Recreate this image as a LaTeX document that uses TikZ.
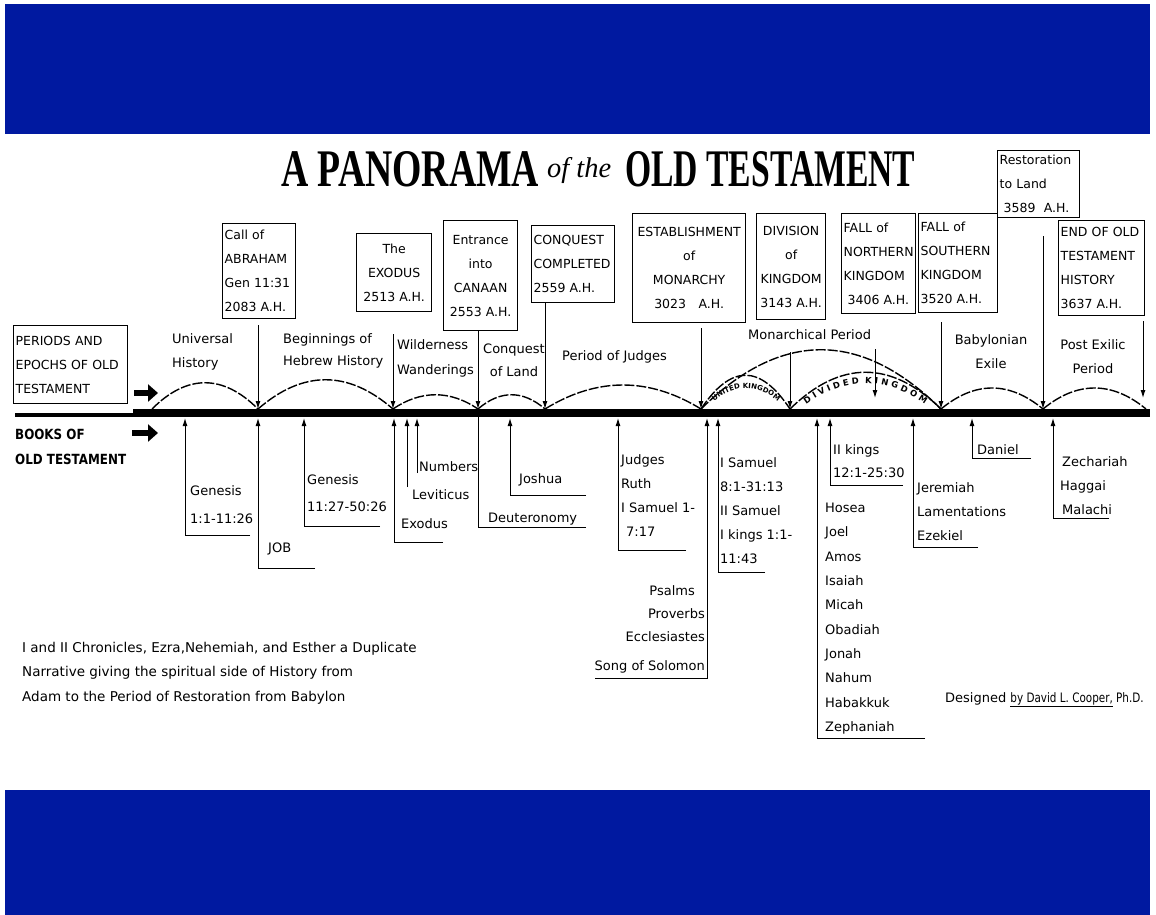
\documentclass[tikz,border=0pt]{standalone}
\usepackage{fontspec}
\setmainfont{DejaVu Sans}
\newfontfamily\titlefont{Liberation Serif}
\usetikzlibrary{arrows.meta,decorations.text}
\definecolor{bandblue}{RGB}{0,25,160}
\newcommand\setfs[2]{\fontsize{#1}{#2}\selectfont}
\begin{document}
\begin{tikzpicture}[x=1pt,y=-1pt,
  box/.style={draw, line width=1.3pt, inner sep=2pt, anchor=north west, font=\setfs{12.5}{24}},
  lbox/.style={box, align=left},
  cbox/.style={box, align=center},
  lbl/.style={inner sep=0pt, anchor=north west, align=left, font=\setfs{13}{24}},
  clbl/.style={lbl, anchor=north, align=center},
  rlbl/.style={inner sep=0pt, anchor=north east, font=\setfs{13}{24}},
  darr/.style={line width=1pt, -{Latex[length=8pt,width=5pt]}},
  uarr/.style={line width=1pt, -{Latex[length=8pt,width=5pt]}},
  bline/.style={line width=1pt},
  hump/.style={line width=1.4pt, dash pattern=on 10pt off 2pt},
  bigarrow/.style={line width=6pt, -{Triangle[length=10pt,width=17pt]}},
]
\useasboundingbox (0,0) rectangle (1156,915);
% blue bands
\fill[bandblue] (5,4) rectangle (1150,134);
\fill[bandblue] (5,790) rectangle (1150,915);

% title
\node[anchor=south west, inner sep=0] (title1) at (281,187) {\resizebox{258pt}{35pt}{\titlefont\bfseries A PANORAMA}};
\node[anchor=base west, inner sep=0] (title2) at (547,177) {\resizebox{64pt}{!}{\titlefont\itshape of the}};
\node[anchor=south west, inner sep=0] (title3) at (625,187) {\resizebox{290pt}{35pt}{\titlefont\bfseries OLD TESTAMENT}};

% timeline
\coordinate (L0) at (15,414.5);
\coordinate (L1) at (133,414.5);
\coordinate (L2) at (133,412.5);
\coordinate (L3) at (1150,412.5);
\draw[line width=4pt] (L0) -- (L1);
\draw[line width=8pt] (L2) -- (L3);

\coordinate (T0) at (152,409);
\coordinate (T1) at (258,409);
\coordinate (T2) at (393,409);
\coordinate (T3) at (478,409);
\coordinate (T4) at (545,409);
\coordinate (T5) at (701,409);
\coordinate (T6) at (790,409);
\coordinate (T7) at (941,409);
\coordinate (T8) at (1043,409);
\coordinate (T9) at (1146,409);

% left arrows
\coordinate (A1) at (134,393);
\coordinate (A2) at (158,393);
\coordinate (A3) at (132,433);
\coordinate (A4) at (158,433);
\draw[bigarrow] (A1) -- (A2);
\draw[bigarrow] (A3) -- (A4);

% humps
\draw[hump] (T0) .. controls +(35,-35) and +(-35,-35) .. (T1);
\draw[hump] (T1) .. controls +(45,-39) and +(-45,-39) .. (T2);
\draw[hump] (T2) .. controls +(28,-19) and +(-28,-19) .. (T3);
\draw[hump] (T3) .. controls +(22,-19) and +(-22,-19) .. (T4);
\draw[hump] (T4) .. controls +(52,-32) and +(-52,-32) .. (T5);
\draw[hump] (T5) .. controls +(80,-79) and +(-80,-79) .. (T7);
\draw[hump] (T5) .. controls +(30,-45) and +(-30,-45) .. (T6);
\draw[hump] (T6) .. controls +(50,-49) and +(-50,-49) .. (T7);
\draw[hump] (T7) .. controls +(34,-28) and +(-34,-28) .. (T8);
\draw[hump] (T8) .. controls +(34,-28) and +(-34,-28) .. (T9);

\path[decorate, decoration={text along path, text={|\setfs{7}{8}\bfseries|UNITED KINGDOM}, text align=center}]
  (711,404) .. controls +(23,-21) and +(-23,-21) .. (781,404);
\path[decorate, decoration={text along path, text={|\setfs{8.5}{9}\bfseries|D I V I D E D\ \ K I N G D O M}, text align=center}]
  (805,405) .. controls +(40,-29) and +(-40,-29) .. (926,405);

% left box and books label
\node[lbox, text width=110pt, minimum height=78pt] (per) at (13,325) {PERIODS AND\\EPOCHS OF OLD\\TESTAMENT};
\node[inner sep=0, anchor=north west, align=left, font=\setfs{14}{25}\bfseries] (books) at (15,429) {\scalebox{0.85}[1]{BOOKS OF}\\\scalebox{0.85}[1]{OLD TESTAMENT}};

% event boxes
\node[lbox, text width=69pt, minimum height=95pt] (abr) at (222,223) {Call of\\ABRAHAM\\Gen 11:31\\2083 A.H.};
\node[cbox, text width=71pt, minimum height=78pt] (exo) at (356,233) {The\\EXODUS\\2513 A.H.};
\node[cbox, text width=70pt, minimum height=110pt] (can) at (443,220) {Entrance\\into\\CANAAN\\2553 A.H.};
\node[lbox, text width=79pt, minimum height=77pt] (cmp) at (531,225) {CONQUEST\\COMPLETED\\2559 A.H.};
\node[cbox, text width=109pt, minimum height=109pt] (mon) at (632,213) {ESTABLISHMENT\\of\\MONARCHY\\3023\quad A.H.};
\node[cbox, text width=65pt, minimum height=106pt] (div) at (756,213) {DIVISION\\of\\KINGDOM\\3143 A.H.};
\node[lbox, text width=70pt, minimum height=100pt] (nor) at (841,213) {FALL of\\NORTHERN\\KINGDOM\\\hspace{4pt}3406 A.H.};
\node[lbox, text width=75pt, minimum height=99pt] (sou) at (918,213) {FALL of\\SOUTHERN\\KINGDOM\\3520 A.H.};
\node[lbox, text width=78pt, minimum height=67pt] (res) at (997,150) {Restoration\\to Land\\\hspace{4pt}3589\ \ A.H.};
\node[lbox, text width=82pt, minimum height=95pt] (end) at (1058,220) {END OF OLD\\TESTAMENT\\HISTORY\\3637 A.H.};

% down arrows from boxes
\coordinate (NK) at (875,398);
\coordinate (E9) at (1143,398);
\draw[darr, shorten <=6pt] (T1 |- abr.south) -- (T1);
\draw[darr, shorten <=22pt] (T2 |- exo.south) -- (T2);
\draw[darr] (T3 |- can.south) -- (T3);
\draw[darr] (T4 |- cmp.south) -- (T4);
\draw[darr, shorten <=5pt] (T5 |- mon.south) -- (T5);
\draw[darr, shorten <=32pt] (T6 |- div.south) -- (T6);
\draw[darr, shorten <=35pt] (NK |- nor.south) -- (NK);
\draw[darr, shorten <=9pt] (T7 |- sou.south) -- (T7);
\draw[darr, shorten <=18pt] (T8 |- res.south) -- (T8);
\draw[darr, shorten <=5pt] (E9 |- end.south) -- (E9);

% period labels
\node[lbl] (p1) at (172,333) {Universal\\History};
\node[lbl, font=\setfs{13}{22}] (p2) at (283,333) {Beginnings of\\Hebrew History};
\node[lbl, font=\setfs{13}{25}] (p3) at (397,339) {Wilderness\\Wanderings};
\node[clbl, font=\setfs{13}{23}] (p4) at (514,344) {Conquest\\of Land};
\node[lbl] (p5) at (562,350) {Period of Judges};
\node[lbl] (p6) at (748,329) {Monarchical Period};
\node[clbl] (p7) at (991,334) {Babylonian\\Exile};
\node[clbl] (p8) at (1093,339) {Post Exilic\\Period};

% book brackets
\coordinate (b1) at (185,418);
\coordinate (b2) at (258,418);
\coordinate (b3) at (304,418);
\coordinate (b4) at (394,418);
\coordinate (b5) at (407,418);
\coordinate (b6) at (417,418);
\coordinate (b7) at (478,416);
\coordinate (b8) at (510,418);
\coordinate (b9) at (618,418);
\coordinate (b10) at (707,418);
\coordinate (b11) at (718,418);
\coordinate (b12) at (817,418);
\coordinate (b13) at (830,418);
\coordinate (b14) at (913,418);
\coordinate (b15) at (972,418);
\coordinate (b16) at (1053,418);

\draw[uarr] (250,535) -| (b1);
\draw[uarr] (315,568) -| (b2);
\draw[uarr] (380,526) -| (b3);
\draw[uarr] (443,542) -| (b4);
\draw[uarr] (b5 |- 0,487) -- (b5);
\draw[uarr] (b6 |- 0,473) -- (b6);
\draw[bline] (586,527) -| (b7);
\draw[uarr] (586,495) -| (b8);
\draw[uarr] (686,550) -| (b9);
\draw[uarr] (595,678) -| (b10);
\draw[uarr] (765,572) -| (b11);
\draw[uarr] (925,738) -| (b12);
\draw[uarr] (903,485) -| (b13);
\draw[uarr] (978,547) -| (b14);
\draw[uarr] (1031,458) -| (b15);
\draw[uarr] (1109,518) -| (b16);

% book labels
\node[lbl, font=\setfs{13}{28}] (k1) at (190,485) {Genesis\\1:1-11:26};
\node[lbl] (k2) at (268,543) {JOB};
\node[lbl, font=\setfs{13}{27}] (k3) at (307,474) {Genesis\\11:27-50:26};
\node[lbl] (k4) at (401,518) {Exodus};
\node[lbl] (k5) at (412,489) {Leviticus};
\node[lbl] (k6) at (419,461) {Numbers};
\node[lbl] (k7) at (488,513) {Deuteronomy};
\node[lbl] (k8) at (519,473) {Joshua};
\node[lbl, font=\setfs{13}{24.3}] (k9) at (621,454) {Judges\\Ruth\\I Samuel 1-\\\hspace{5pt}7:17};
\node[rlbl] (k10a) at (695,585) {Psalms};
\node[rlbl] (k10b) at (705,608) {Proverbs};
\node[rlbl] (k10c) at (705,631) {Ecclesiastes};
\node[rlbl] (k10d) at (705,660) {Song of Solomon};
\node[lbl] (k11) at (720,457) {I Samuel\\8:1-31:13\\II Samuel\\I kings 1:1-\\11:43};
\node[lbl, font=\setfs{13}{24.3}] (k12) at (825,503) {Hosea\\Joel\\Amos\\Isaiah\\Micah\\Obadiah\\Jonah\\Nahum\\Habakkuk\\Zephaniah};
\node[lbl, font=\setfs{13}{23}] (k13) at (833,444) {II kings\\12:1-25:30};
\node[lbl] (k14) at (917,482) {Jeremiah\\Lamentations\\Ezekiel};
\node[lbl] (k15) at (977,444) {Daniel};
\node[lbl] (k16) at (1062,456) {Zechariah\\[0pt]\hspace{-2pt}Haggai\\Malachi};

% notes
\node[lbl, font=\setfs{13.5}{24.5}] (note) at (22,642) {I and II Chronicles, Ezra,Nehemiah, and Esther a Duplicate\\Narrative giving the spiritual side of History from\\Adam to the Period of Restoration from Babylon};
\node[lbl] (sig) at (945,692) {Designed \scalebox{0.8}[1]{\underline{by David L. Cooper,} Ph.D.}};
\end{tikzpicture}
\end{document}
